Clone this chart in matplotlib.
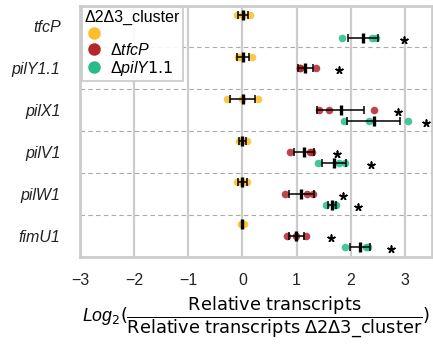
import numpy as np
import matplotlib.pyplot as plt
from matplotlib.lines import Line2D

plt.rcParams['font.family'] = ['Liberation Sans', 'DejaVu Sans']
plt.rcParams['mathtext.fontset'] = 'custom'
plt.rcParams['mathtext.rm'] = 'DejaVu Sans'
plt.rcParams['mathtext.it'] = 'Liberation Sans:italic'
plt.rcParams['mathtext.bf'] = 'DejaVu Sans:bold'

genes = ["tfcP", "pilY1.1", "pilX1", "pilV1", "pilW1", "fimU1"]
strain_labels = ["", "Δ$\\it{tfcP}$", "Δ$\\it{pilY1.1}$"]
legend_title = "Δ2Δ3_cluster"

# log2 ratio per replicate, one row per gene
cluster_vals = [
    [-0.10, 0.01, 0.13],
    [-0.09, -0.04, 0.17],
    [-0.28, 0.00, 0.29],
    [-0.07, -0.01, 0.08],
    [-0.11, 0.00, 0.09],
    [-0.02, 0.00, 0.02],
]
tfcp_vals = [
    None,
    [1.07, 1.06, 1.35],
    [1.42, 1.60, 2.42],
    [0.88, 1.25, 1.28],
    [0.78, 1.19, 1.30],
    [0.83, 0.99, 1.17],
]
pily_vals = [
    [1.84, 2.39, 2.46],
    None,
    [1.87, 2.33, 3.06],
    [1.39, 1.79, 1.89],
    [1.54, 1.70, 1.72],
    [1.90, 2.28, 2.31],
]
# where the significance stars sit
tfcp_star = [None, 1.79, 2.88, 1.74, 1.85, 1.63]
pily_star = [2.99, None, 3.38, 2.38, 2.13, 2.74]

colors = ["#FCBF29", "#B3262A", "#27BB8C"]
offsets = [-0.27, 0.0, 0.27]

fig = plt.figure(figsize=(4.33, 3.45), dpi=100)
ax = fig.add_axes([0.1848, 0.2565, 0.8129, 0.7275])

series = [cluster_vals, tfcp_vals, pily_vals]
stars = [[None] * len(genes), tfcp_star, pily_star]

for k, vals in enumerate(series):
    for i, reps in enumerate(vals):
        if reps is None:
            continue
        y = i + offsets[k]
        reps = np.array(reps)
        ax.scatter(reps, [y] * len(reps), s=30, color=colors[k], alpha=0.85,
                   linewidths=0, zorder=3)
        m = reps.mean()
        sd = reps.std()
        ax.errorbar(m, y, xerr=sd, fmt='none', ecolor='black', elinewidth=1.1,
                    capsize=3, capthick=1.1, zorder=4)
        ax.scatter([m], [y], marker='|', s=45, linewidths=2.4, color='black', zorder=5)
        if stars[k][i] is not None:
            ax.scatter([stars[k][i]], [y + 0.05], marker=(5, 2, 0), s=24, linewidths=1.2,
                       color='black', zorder=5, clip_on=False)

for i in range(len(genes) - 1):
    ax.axhline(i + 0.5, color='#aaaaaa', ls=(0, (4, 3)), lw=0.8, zorder=1)

ax.set_xlim(-3, 3.5)
ax.set_ylim(len(genes) - 0.5, -0.5)
ax.set_xticks([-3, -2, -1, 0, 1, 2, 3])
ax.set_yticks(range(len(genes)))
ax.set_yticklabels(genes, fontstyle='italic')
ax.tick_params(axis='both', length=0, labelsize=11.5, colors='#222222')
ax.tick_params(axis='y', pad=14)
ax.tick_params(axis='x', pad=12)
ax.grid(axis='x', color='#cccccc', lw=1.6, zorder=0)
ax.set_axisbelow(True)
for sp in ax.spines.values():
    sp.set_color('#cccccc')
    sp.set_linewidth(2)

ax.set_xlabel(r"$Log_2(\dfrac{\mathrm{Relative\ transcripts}}{\mathrm{Relative\ transcripts\ \Delta 2\Delta 3\_cluster}})$",
              fontsize=12.8, labelpad=5)

handles = [Line2D([], [], marker='o', ls='', color=c, markersize=8) for c in colors]
leg = ax.legend(handles, strain_labels, title=legend_title, loc='upper left',
                fontsize=11.5, title_fontsize=11.5, labelspacing=0.05,
                borderpad=0.2, handletextpad=0.4, handlelength=1.2,
                borderaxespad=0.1, framealpha=0.9, fancybox=False)
leg.get_frame().set_edgecolor('#cccccc')
leg.get_frame().set_linewidth(1.5)
leg._legend_box.align = 'left'

fig.savefig("out.png", dpi=100)
